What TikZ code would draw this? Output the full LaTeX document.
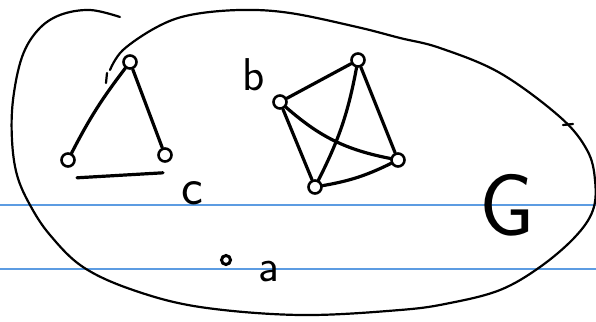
\documentclass[tikz,border=0pt]{standalone}
\usepackage{xcolor}
\usepackage{tikz}
\usetikzlibrary{positioning, calc}
\definecolor{ruleblue}{RGB}{92,156,226}
\tikzset{
  vtx/.style = {
    circle, draw=black, line width=2.6pt,
    minimum size=13pt, inner sep=0pt
  },
  lbl/.style = {
    inner sep=0pt, font=\sffamily
  },
  edge/.style  = {line width=3.2pt, line cap=round},
  scrib/.style = {line width=2.2pt, line cap=round}
}
\begin{document}
\begin{tikzpicture}[x=1pt, y=-1pt]
\useasboundingbox (0,0) rectangle (596,321);

%% Notebook lines
\draw[ruleblue, line width=1.2pt] (0,205) -- (596,205);
\draw[ruleblue, line width=1.2pt] (0,269) -- (596,269);

%% Outline of G
\draw[scrib, smooth, tension=0.6] plot coordinates {
  (120,17) (90,10) (60,15) (38,30) (22,57) (13,100) (12,140)
  (17,175) (30,205) (50,235) (83,267) (133,290) (200,307)
  (300,315) (400,310) (450,303) (500,290) (540,267) (575,237)
  (593,210) (595,180) (587,150) (560,117) (500,73) (440,48)
  (400,38) (357,27) (290,13) (240,10) (190,15) (157,27)
  (123,50) (110,70)};
\draw[scrib] (107,73) -- (106,83);
\draw[scrib] (563,125) -- (573,124);

%% Triangle
\node[vtx] (t1) at (130,62)  {};
\node[vtx] (t2) at (68,160)  {};
\node[vtx] (t3) at (165,155) {};
\node[lbl, font=\sffamily\fontsize{52}{52}\selectfont] (lc) at (192,193) {c};

\draw[edge] (t1) to[bend right=5] (t2);
\draw[edge] (t1) -- (t3);
\draw[edge] ([shift={(9,10)}]t2.south) -- ([shift={(-2,10)}]t3.south);

%% Complete graph on four vertices
\node[vtx] (vb) at (280,102) {};
\node[vtx] (vt) at (358,60)  {};
\node[vtx] (vr) at (398,160) {};
\node[vtx] (vd) at (315,187) {};
\node[lbl, font=\sffamily\fontsize{46}{46}\selectfont] (lb) at (254,75) {b};

\draw[edge] (vb) -- (vt);
\draw[edge] (vb) to[bend right=15] (vr);
\draw[edge] (vb) -- (vd);
\draw[edge] (vt) -- (vr);
\draw[edge] (vt) to[bend left=8] (vd);
\draw[edge] (vd) to[bend right=8] (vr);

%% Isolated vertex
\node[vtx, minimum size=9pt, line width=3pt] (va) at (226,260) {};
\node[lbl, font=\sffamily\fontsize{46}{46}\selectfont] (la) at (269,272) {a};

%% Name of the graph
\node[lbl, font=\sffamily\fontsize{88}{88}\selectfont] (lg) at (507,205) {G};

\end{tikzpicture}
\end{document}
